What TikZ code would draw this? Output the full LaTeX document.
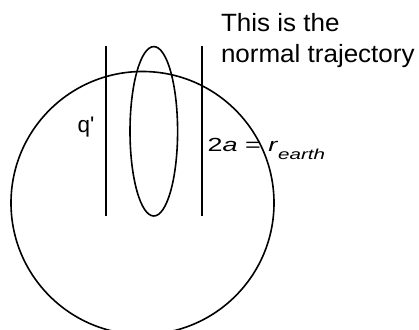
\documentclass[tikz,border=0pt]{standalone}
\usepackage{fontspec}
\setmainfont{Liberation Sans}[Ligatures=TeXOff]
\begin{document}
\begin{tikzpicture}[x=1pt,y=-1pt,
  stroke/.style={line width=1.6pt, black},
  lbl/.style={inner sep=0pt, outer sep=0pt, anchor=base west}]
\useasboundingbox (0,0) rectangle (419,329);
% earth
\coordinate (earth) at (142.5,203);
\draw[stroke] (earth) circle[radius=131.5];
% trajectory ellipse
\coordinate (orbit) at (153.8,131.3);
\draw[stroke] (orbit) ellipse[x radius=23.8, y radius=84.7];
% vertical lines
\coordinate (l1) at (105.8,46);
\coordinate (l2) at (105.8,216);
\coordinate (r1) at (201.7,46);
\coordinate (r2) at (201.7,216);
\draw[stroke] (l1) -- (l2);
\draw[stroke] (r1) -- (r2);
% labels
\node[lbl] (t1) at (221,31.7) {\fontsize{25}{30}\selectfont\scalebox{1.04}[1]{This is the}};
\node[lbl] (t2) at (221,62.3) {\fontsize{25}{30}\selectfont\scalebox{1.04}[1]{normal trajectory}};
\node[lbl] (q) at (77.5,132.3) {\fontsize{22.5}{26}\selectfont q'};
\node[lbl] (eq) at (207.5,151.7) {\fontsize{19}{22}\selectfont\scalebox{1.42}[1]{2\textit{a} = \textit{r}\raisebox{-7.5pt}{\fontsize{14.5}{16}\selectfont\textit{earth}}}};
\end{tikzpicture}
\end{document}
